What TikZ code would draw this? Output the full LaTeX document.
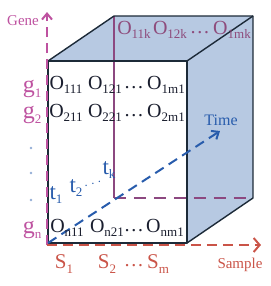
\documentclass[tikz,border=0pt]{standalone}
\usepackage{fontspec}
\setmainfont{Liberation Serif}
\usepackage{xcolor}
\usetikzlibrary{arrows.meta}
\definecolor{cubefill}{RGB}{183,201,226}
\definecolor{cubeedge}{RGB}{28,42,56}
\definecolor{hiddenline}{RGB}{140,72,128}
\definecolor{genecol}{RGB}{190,82,160}
\definecolor{timecol}{RGB}{40,92,172}
\definecolor{samplecol}{RGB}{202,84,72}
\definecolor{datacol}{RGB}{26,30,46}
\definecolor{backcol}{RGB}{142,76,124}
\newcommand{\sbx}[1]{\raisebox{-0.45ex}{\fontsize{6.5}{7}\selectfont#1}}

\begin{document}
\begin{tikzpicture}[x=0.5pt, y=-0.5pt,
  edge/.style={draw=cubeedge, line width=0.7pt, line join=round},
  hidden/.style={draw=hiddenline, line width=0.8pt},
  axis/.style={line width=1pt, dash pattern=on 5pt off 3pt},
  entry/.style={font=\fontsize{10}{12}\selectfont, text=datacol, inner sep=0pt},
  ilabel/.style={font=\fontsize{10}{12}\selectfont, inner sep=0pt}
]
\useasboundingbox (0,0) rectangle (270,286);
% cube corners: front face, then back face shifted up and right
\coordinate (ftl) at (48,61);
\coordinate (ftr) at (187,61);
\coordinate (fbr) at (187,243);
\coordinate (fbl) at (48,243);
\coordinate (btl) at (114,16);
\coordinate (btr) at (253,16);
\coordinate (bbr) at (253,198);
\coordinate (bbl) at (114,198);
% shaded top and side faces
\fill[cubefill] (ftl) -- (ftr) -- (btr) -- (btl) -- cycle;
\fill[cubefill] (ftr) -- (fbr) -- (bbr) -- (btr) -- cycle;
% hidden back edges
\draw[hidden] (btl) -- (bbl);
\draw[hidden, line width=1pt, dash pattern=on 6pt off 4pt] (bbl) -- (bbr);
% visible edges
\draw[edge] (fbl) -- (ftl) -- (ftr) -- (fbr) -- cycle;
\draw[edge] (ftl) -- (btl) -- (btr) -- (bbr) -- (fbr);
\draw[edge] (ftr) -- (btr);
% axes
\coordinate (origin) at (47,245);
\coordinate (geneend) at (47,12);
\coordinate (sampleend) at (261,245);
\coordinate (timeend) at (220,131);
\draw[axis, genecol, -{Straight Barb[length=3pt, width=5pt]}] (origin) -- (geneend);
\draw[axis, samplecol, -{Straight Barb[length=3pt, width=7pt]}] (origin) -- (sampleend);
\draw[axis, timecol, -{Straight Barb[length=3pt, width=5pt]}] (fbl) -- (timeend);
\node[font=\fontsize{7.5}{9}\selectfont, text=genecol, inner sep=0pt] (gene) at (23,21) {Gene};
\node[font=\fontsize{8}{9}\selectfont, text=timecol, inner sep=0pt] (time) at (221,120) {Time};
\node[font=\fontsize{7.5}{9}\selectfont, text=samplecol, inner sep=0pt] (sample) at (240,265) {Sample};
% gene labels
\foreach \name/\y/\txt in {g1/89/1, g2/115/2, gn/230/n} {
  \node[font=\fontsize{12}{14}\selectfont, text=genecol, inner sep=0pt] (\name) at (32,\y) {g\sbx{\txt}};
}
\foreach \name/\y in {gdot1/148, gdot2/173, gdot3/200} {
  \node[fill=timecol!50, circle, inner sep=0.45pt] (\name) at (31,\y) {};
}
% time labels
\foreach \name/\x/\y/\txt in {t1/56/195/1, t2/76/188/2, tk/109/170/k} {
  \node[ilabel, text=timecol, font=\fontsize{11.5}{13}\selectfont] (\name) at (\x,\y) {t\sbx{\txt}};
}
\node[ilabel, text=timecol, rotate=20, font=\fontsize{6}{7}\selectfont] (tdots) at (93,184) {$\cdots$};
% sample labels
\foreach \name/\x/\txt in {s1/64/1, s2/107/2, sm/158/m} {
  \node[ilabel, text=samplecol, font=\fontsize{10.5}{12}\selectfont] (\name) at (\x,264) {S\sbx{\txt}};
}
\node[ilabel, text=samplecol] (sdots) at (134,266) {\dots};
% data entries on the front face
\foreach \name/\x/\y/\txt in {o111/66/85/111, o121/105/85/121, o1m1/166/85/1m1,
                              o211/66/113/211, o221/105/113/221, o2m1/166/113/2m1,
                              on11/67/228/n11, on21/107/228/n21, onm1/165/228/nm1} {
  \node[entry] (\name) at (\x,\y) {O\sbx{\txt}};
}
\foreach \name/\y in {rdots1/88, rdots2/116, rdotsn/231} {
  \node[entry] (\name) at (134,\y) {\dots};
}
% back row on the top face
\foreach \name/\x/\txt in {o11k/134/11k, o12k/170/12k, o1mk/232/1mk} {
  \node[entry, text=backcol] (\name) at (\x,30) {O\sbx{\txt}};
}
\node[entry, text=backcol] (kdots) at (200,33) {\dots};
\end{tikzpicture}
\end{document}
